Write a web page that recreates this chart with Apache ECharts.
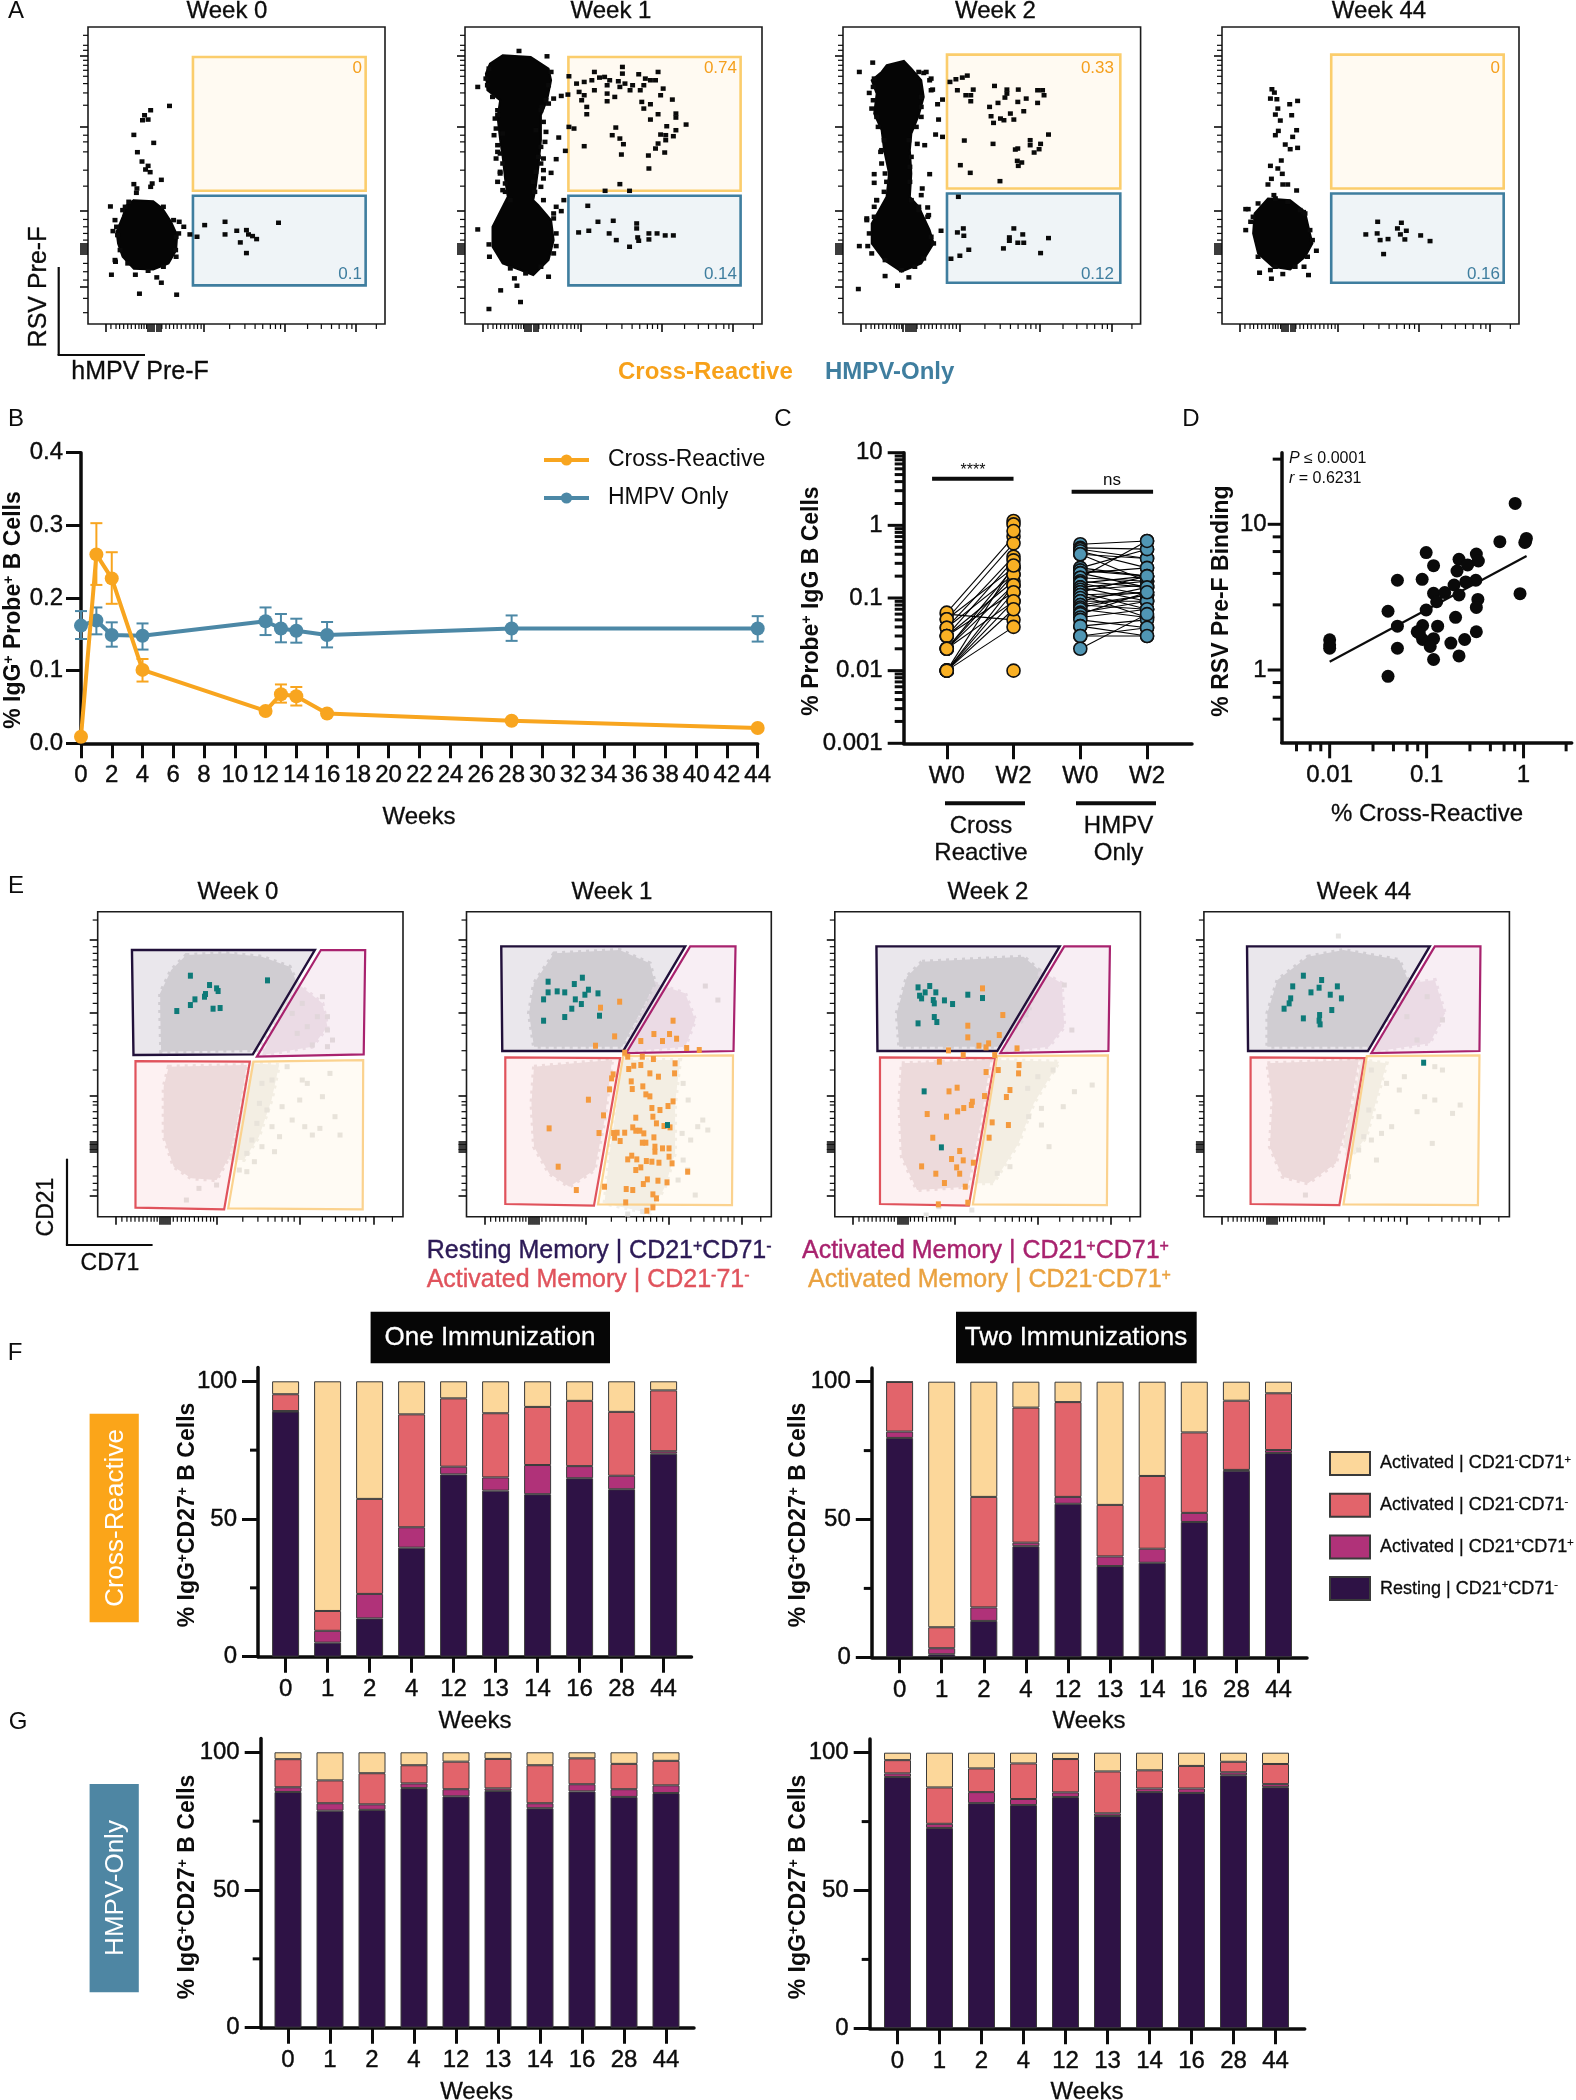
<!DOCTYPE html>
<html><head><meta charset="utf-8"><title>Figure</title>
<style>html,body{margin:0;padding:0;background:#fff}#c{width:1576px;height:2100px}</style>
<script src="https://cdn.jsdelivr.net/npm/echarts@6/dist/echarts.min.js"></script></head>
<body><div id="c"></div>
<script>
// ---------- Panel A: flow plots, values in display channels (x, y)
const aBlobW0=[[90,372],[128,369],[146,347],[163,307],[175,267],[173,222],[158,182],[128,164],[90,166],[68,202],[59,242],[56,277],[68,322],[76,357]];
const aDotsW0=[[160,655],[123,642],[111,627],[107,612],[118,614],[90,568],[129,544],[97,516],[106,488],[118,475],[113,464],[122,456],[144,433],[90,420],[96,407],[95,394],[123,412],[126,422],[44,353],[80,367],[53,312],[179,307],[188,292],[200,269],[214,262],[229,297],[269,307],[269,269],[292,280],[311,282],[315,269],[323,264],[331,255],[299,245],[311,213],[374,304],[54,187],[53,192],[46,148],[93,148],[135,140],[144,124],[101,91],[174,88],[49,279],[173,262],[172,222],
[68,342],[73,352],[56,292],[178,272],[168,312],[148,352],[173,202],[148,172],[118,160],[78,182],[63,222],[58,267]];
const aBlobW1=[[74,807],[129,802],[164,767],[169,732],[161,672],[149,627],[149,552],[144,472],[139,412],[134,372],[144,357],[169,312],[174,252],[164,192],[134,147],[109,162],[74,182],[54,232],[54,292],[74,352],[84,382],[79,432],[74,502],[69,552],[64,622],[69,672],[44,702],[41,752],[49,782]];
const aDotsW1=[[25,712],[106,820],[161,804],[204,744],[174,677],[189,685],[202,689],[151,652],[164,662],[64,627],[57,567],[159,577],[157,547],[184,560],[64,517],[197,520],[154,497],[179,495],[61,497],[149,482],[154,462],[169,454],[69,452],[64,427],[154,437],[74,402],[149,412],[194,372],[179,352],[189,339],[174,317],[25,284],[179,234],[47,239],[48,202],[164,142],[97,137],[102,115],[70,101],[109,66],[47,45],
[47,767],[41,737],[44,717],[54,682],[64,642],[59,617],[61,587],[74,572],[64,537],[69,512],[74,482],[69,457],[79,422],[79,397],[89,372],[169,757],[164,717],[159,672],[149,642],[154,607],[139,582],[149,532],[144,502],[139,457],[134,427],[137,397],[154,372],[174,332],[179,272],[174,212],[149,172],[119,152],[89,167],
[254,757],[309,772],[309,752],[234,727],[219,722],[249,732],[264,740],[274,742],[284,732],[301,729],[314,722],[329,717],[341,750],[354,737],[364,732],[379,757],[374,732],[351,717],[324,702],[304,712],[344,702],[389,707],[384,687],[254,702],[279,717],[224,697],[234,687],[229,672],[239,652],[239,630],[279,692],[294,682],[279,669],[347,667],[364,660],[351,647],[407,674],[379,630],[414,632],[414,620],[364,614],[434,599],[396,594],[414,582],[409,564],[394,567],[384,569],[394,552],[379,542],[374,527],[392,515],[360,506],[361,467],[296,590],[289,567],[304,557],[311,540],[307,509],[234,534],[204,592],[214,587],[304,420],[275,400],[323,400],
[241,355],[261,307],[291,310],[223,275],[243,280],[283,272],[297,252],[323,232],[337,302],[337,287],[339,260],[341,250],[361,272],[361,254],[377,272],[393,266],[409,266]];
const aBlobW2=[[88,777],[123,790],[138,767],[158,732],[163,682],[153,627],[138,572],[135,522],[138,452],[135,382],[153,352],[175,282],[183,242],[158,182],[118,157],[83,192],[58,242],[58,302],[88,382],[93,452],[83,522],[78,582],[63,632],[68,692],[58,732],[78,757]];
const aDotsW2=[[33,757],[60,785],[163,754],[178,737],[181,704],[201,674],[191,660],[193,614],[187,569],[201,562],[150,541],[165,537],[175,450],[76,517],[63,450],[63,424],[160,407],[158,387],[68,372],[153,352],[171,350],[173,327],[48,317],[198,280],[33,234],[50,234],[85,144],[133,140],[110,115],[31,105],
[63,737],[61,712],[53,694],[61,672],[58,647],[68,622],[71,592],[83,552],[78,522],[78,482],[85,452],[88,427],[83,397],[68,372],[63,352],[153,757],[168,757],[175,732],[178,702],[158,682],[158,652],[158,622],[148,592],[133,552],[138,502],[135,472],[135,427],[138,372],[153,342],[171,322],[178,262],[183,242],[163,197],[145,172],[118,162],[85,192],[58,212],[53,272],[48,312],[63,322],
[216,727],[228,735],[241,740],[251,746],[231,702],[263,704],[248,687],[258,687],[258,669],[306,715],[331,704],[331,692],[354,704],[327,680],[370,677],[393,702],[403,702],[406,687],[393,664],[353,667],[313,664],[296,652],[299,624],[365,639],[338,632],[318,617],[325,612],[345,614],[304,604],[245,551],[303,541],[378,552],[378,537],[399,541],[415,569],[353,527],[348,524],[396,525],[386,515],[352,490],[361,485],[354,475],[237,477],[257,454],[317,429],[233,382],
[243,287],[231,275],[244,265],[345,287],[363,269],[336,260],[336,250],[353,244],[365,244],[415,258],[324,227],[399,213],[254,223],[236,205],[218,196]];
const aBlobW44=[[93,377],[138,372],[168,337],[178,272],[183,242],[168,202],[138,164],[103,172],[73,212],[63,272],[66,332]];
const aDotsW44=[[101,705],[106,695],[98,677],[111,675],[137,660],[153,670],[113,647],[108,629],[141,627],[118,611],[114,580],[108,567],[151,582],[143,562],[128,539],[138,525],[153,529],[120,491],[98,475],[113,467],[122,451],[100,436],[93,419],[123,419],[133,419],[151,401],[105,387],[48,345],[53,345],[165,336],[48,282],[58,307],[191,220],[76,154],[98,162],[123,150],[100,136],[175,147],[166,172],
[73,362],[63,322],[168,332],[178,282],[183,252],[173,202],[148,172],[108,172],[73,202],[108,377],[133,367],[158,342],
[315,307],[363,304],[355,287],[373,280],[291,269],[314,272],[361,269],[402,266],[336,255],[320,252],[370,254],[421,249],[327,210]];
// gates: [x0, x1, yTop, yBottom]
const aCrossGates=[[206,545,802,400],[203,541,802,400],[210,560,809,407],[221,570,809,407]];
const aHmpvGates=[[206,545,385,116],[203,541,385,116],[210,560,392,124],[221,570,392,124]];
const aCrossPct=['0','0.74','0.33','0'];
const aHmpvPct=['0.1','0.14','0.12','0.16'];
const weekTitles=['Week 0','Week 1','Week 2','Week 44'];
const aXMajor=[35,228,386,526,118,122,126,130,134,138,142];
const aXMinor=[45,55,62,70,78,85,93,100,105,110,115,145,153,160,168,175,183,192,200,208,215,222,278,308,328,343,358,368,378,431,458,478,493,508,518,566];
const aYMajor=[806,592,340,112,212,218,224,230,236,242];
const aYMinor=[34,77,132,157,182,252,272,292,314,414,462,517,547,567,657,694,722,744,762,777,792,822,837,867];

// ---------- Panel B
const bWeeks=[0,1,2,4,12,13,14,16,28,44];
const bCross=[0.009,0.26,0.227,0.101,0.0445,0.0675,0.0647,0.041,0.031,0.021];
const bCrossHi=[null,0.303,0.263,0.116,null,0.081,0.0775,null,null,null];
const bCrossLo=[null,0.218,0.192,0.085,null,0.056,0.052,null,null,null];
const bHmpv=[0.162,0.169,0.149,0.148,0.168,0.158,0.155,0.149,0.158,0.158];
const bHmpvHi=[0.182,0.187,0.1665,0.165,0.187,0.178,0.1715,0.167,0.176,0.175];
const bHmpvLo=[0.1436,0.15,0.133,0.129,0.149,0.139,0.1385,0.132,0.141,0.14];

// ---------- Panel C: [W0, W2] pairs
const cLabels=['W0','W2','W0','W2'];
const cCrossPairs=[[0.06,0.05],[0.063,0.7],[0.051,0.565],[0.051,0.26],[0.039,0.37],[0.039,0.21],[0.03,0.33],[0.03,0.17],[0.03,0.12],[0.02,0.26],[0.02,0.21],[0.02,0.15],[0.02,0.09],[0.01,0.28],[0.01,0.15],[0.01,0.12],[0.01,0.09],[0.01,0.07],[0.01,0.04]];
const cCrossW2Only=[1.15,1.03,0.835,0.01];
const cHmpvPairs=[[0.55,0.61],[0.49,0.47],[0.47,0.35],[0.44,0.26],[0.40,0.35],[0.40,0.17],[0.26,0.47],[0.26,0.2],[0.24,0.2],[0.22,0.26],[0.22,0.14],[0.19,0.61],[0.19,0.17],[0.17,0.14],[0.16,0.2],[0.16,0.11],[0.14,0.17],[0.14,0.09],[0.13,0.15],[0.12,0.07],[0.12,0.2],[0.11,0.12],[0.11,0.054],[0.1,0.12],[0.09,0.14],[0.09,0.09],[0.08,0.11],[0.08,0.07],[0.074,0.11],[0.07,0.054],[0.063,0.09],[0.06,0.12],[0.054,0.07],[0.05,0.039],[0.041,0.05],[0.041,0.03],[0.03,0.039],[0.03,0.03],[0.02,0.06]];
const cSigBars=[[-0.22,1,4.39],[1.87,3.09,2.9]];
const logDecades=[0.001,0.01,0.1,1,10];
const logMinorFactors=[2,3,4,5,6,7,8,9];

// ---------- Panel D: [% cross-reactive, % RSV Pre-F binding]
const dPoints=[[0.82,13.9],[0.57,7.6],[1.05,7.6],[1.07,8.0],[1.03,7.5],[0.92,3.34],[0.099,6.4],[0.118,5.2],[0.216,5.75],[0.326,6.25],[0.265,5.26],[0.342,5.6],[0.206,4.78],[0.05,4.13],[0.09,4.19],[0.322,4.13],[0.253,4.02],[0.192,3.83],[0.118,3.36],[0.154,3.4],[0.216,3.27],[0.127,2.94],[0.338,3.05],[0.326,2.69],[0.099,2.58],[0.04,2.53],[0.199,2.3],[0.05,2.0],[0.091,2.02],[0.13,2.0],[0.08,1.83],[0.326,1.83],[0.091,1.62],[0.084,1.79],[0.118,1.64],[0.247,1.62],[0.178,1.53],[0.109,1.45],[0.05,1.41],[0.01,1.61],[0.01,1.49],[0.01,1.41],[0.216,1.25],[0.118,1.18],[0.04,0.905]];
const dFit=[[0.01,1.14],[1.075,6.06]];
const dXTicksMinor=[0.00455,0.0063,0.0081,0.028,0.0455,0.063,0.081,0.28,0.455,0.63,0.81,2.75];
const dXTicksMajor=[0.01,0.1,1];
const dYTicksMinor=[0.46,0.65,0.82,2.8,4.6,6.5,8.2,28];
const dYTicksMajor=[1,10];

// ---------- Panel E: flow plots, channels (x, y)
const eXMajor=[36,237,402,547,124,128,132,136,140,144];
const eXMinor=[48,58,66,74,82,90,98,106,112,118,150,158,166,174,182,192,200,208,216,224,230,288,318,338,352,366,378,390,446,472,492,506,520,532,585];
const eYMajor=[832,612,362,62,195,200,205,210,215,220,225];
const eYMinor=[150,122,100,80,255,275,295,315,335,345,440,498,550,575,640,670,700,725,750,770,790,810,890];
const eRest=[[[68,800],[431,800],[308,487],[71,485]],[[69,811],[434,811],[311,497],[71,497]],[[82,811],[443,811],[320,497],[84,497]],[[85,811],[445,811],[323,497],[87,497]]];
const eActPos=[[[443,800],[531,800],[528,487],[316,480]],[[444,811],[534,811],[530,497],[317,491]],[[452,811],[542,811],[539,497],[326,491]],[[455,811],[545,811],[543,497],[330,491]]];
const eNeg=[[[75,467],[302,465],[251,22],[75,27]],[[77,478],[305,476],[253,33],[77,38]],[[89,478],[316,476],[264,33],[89,38]],[[92,478],[317,476],[267,35],[92,38]]];
const eAct71=[[[309,465],[527,470],[526,22],[259,25]],[[311,482],[529,484],[527,35],[261,37]],[[320,482],[538,484],[536,35],[272,37]],[[321,482],[543,484],[540,35],[275,37]]];
const eCloudUp=[[[176,785],[256,790],[326,780],[381,750],[396,700],[366,620],[316,500],[126,495],[124,620],[124,670],[146,740]],[[174,790],[304,800],[364,760],[374,700],[344,610],[309,510],[134,510],[124,610],[134,700]],[[172,765],[372,780],[402,740],[382,610],[322,510],[127,510],[122,610],[142,720]],[[205,780],[275,800],[385,770],[405,700],[365,600],[325,510],[125,510],[125,610],[145,710]]];
const eCloudMag=[[[396,700],[446,640],[456,570],[426,510],[326,485],[366,620]],[[374,700],[434,670],[454,590],[434,510],[314,495]],[[402,740],[447,700],[452,570],[422,510],[332,495]],[[405,700],[455,710],[475,610],[445,520],[335,495]]];
const eCloudLow=[[[141,450],[296,455],[276,280],[261,180],[236,110],[186,115],[151,150],[131,240],[131,390]],[[134,450],[289,470],[274,290],[254,140],[204,90],[164,130],[134,210],[129,340]],[[132,460],[307,470],[287,280],[262,90],[162,80],[132,180],[127,340]],[[125,460],[305,470],[285,300],[260,160],[205,100],[155,120],[130,210],[135,340]]];
const eCloudRight=[[[306,460],[360,455],[345,350],[320,240],[290,170],[262,170],[285,300]],[[309,470],[424,470],[414,340],[414,190],[394,90],[364,10],[274,40],[284,190],[299,340]],[[322,470],[442,465],[392,340],[362,220],[312,100],[277,100],[297,280]],[[310,470],[360,460],[340,350],[320,240],[285,170],[275,230],[295,340]]];
const eGray=[
[[376,450],[406,410],[416,400],[461,430],[446,360],[366,330],[401,350],[326,400],[346,410],[321,340],[336,320],[316,280],[346,270],[361,240],[386,290],[411,270],[426,245],[471,300],[481,245],[441,265],[306,230],[326,210],[296,190],[351,195],[311,165],[281,140],[296,135],[176,50],[201,85],[236,95],[446,660],[406,640],[436,600],[456,600],[386,610],[416,570],[456,560],[396,550],[466,530],[426,515],[456,510]],
[[474,692],[499,650],[469,290],[479,260],[459,270],[454,65],[439,140],[320,8],[350,15],[430,400],[440,350],[428,250],[445,230],[420,110],[430,170]],
[[507,395],[472,375],[422,210],[382,300],[407,325],[407,275],[452,695],[467,560],[430,440],[400,420],[450,330],[380,385],[345,150],[320,130],[180,5],[205,30],[270,20]],
[[330,440],[455,450],[470,440],[395,420],[360,400],[385,380],[435,360],[455,350],[505,335],[490,310],[420,315],[345,300],[325,320],[370,270],[350,250],[315,240],[330,230],[450,220],[305,200],[340,170],[285,120],[200,65],[265,842],[440,660],[470,590],[420,530],[400,600]]];
const eTeal=[
[[184,723],[222,695],[236,685],[239,677],[214,668],[212,660],[193,652],[184,635],[157,617],[229,624],[243,626],[337,709]],
[[230,717],[214,698],[162,705],[162,673],[180,676],[195,673],[242,681],[235,666],[261,670],[153,652],[216,652],[228,638],[209,624],[195,599],[153,588],[264,603],[399,275]],
[[164,688],[187,692],[199,673],[178,673],[167,663],[171,655],[194,650],[196,640],[216,649],[232,638],[262,666],[291,656],[196,599],[201,584],[164,580],[176,376],[210,208]],
[[196,723],[232,710],[175,691],[227,687],[263,691],[211,673],[249,666],[171,655],[271,655],[168,640],[158,624],[252,620],[196,595],[228,605],[227,588],[229,577],[433,462]]];
const eOrange=[[],
[[304,645],[266,627],[294,541],[256,513],[346,527],[372,548],[389,527],[403,548],[417,534],[410,588],[437,506],[462,500],[314,492],[322,443],[332,453],[346,455],[320,480],[349,480],[371,473],[414,460],[413,430],[364,430],[381,420],[291,427],[288,415],[327,406],[284,382],[329,383],[350,391],[242,351],[356,367],[364,361],[410,346],[368,326],[384,320],[400,332],[272,304],[336,297],[370,300],[377,280],[392,272],[330,268],[404,268],[164,265],[263,251],[292,251],[299,252],[314,252],[336,258],[344,258],[352,250],[294,237],[305,227],[372,238],[349,222],[356,222],[374,210],[374,195],[389,205],[402,205],[402,180],[328,183],[320,172],[338,172],[357,167],[368,165],[382,162],[408,160],[182,150],[346,148],[336,140],[439,135],[359,112],[351,98],[380,108],[398,103],[274,90],[218,80],[317,83],[330,80],[370,67],[377,55],[316,43],[358,18],[370,28]],
[[291,685],[331,605],[262,573],[262,538],[324,545],[303,520],[284,513],[298,508],[359,505],[224,499],[253,485],[315,485],[206,465],[363,455],[362,430],[298,434],[322,440],[345,380],[241,387],[225,376],[338,359],[295,362],[271,345],[269,335],[254,326],[242,316],[220,300],[182,308],[310,283],[342,275],[193,237],[304,237],[246,197],[230,173],[253,169],[273,162],[240,148],[171,151],[246,129],[199,129],[216,101],[257,90],[204,37],[262,42]],
[]];

// ---------- Panels F, G: stacked percentages
const barWeeks=['0','1','2','4','12','13','14','16','28','44'];
const stackNames=['Resting | CD21+CD71-','Activated | CD21+CD71+','Activated | CD21-CD71-','Activated | CD21-CD71+'];
const fOneResting=[89.0,5.1,13.9,39.6,66.2,60.3,59.0,64.8,60.8,73.7];
const fOneMag=[0.2,4.3,8.9,7.4,2.8,4.8,10.6,4.4,4.9,0.9];
const fOneRed=[6.1,7.2,34.5,41.0,24.8,23.3,21.1,23.7,23.2,22.1];
const fOneYellow=[4.7,83.4,42.7,12.0,6.2,11.6,9.3,7.1,11.1,3.3];
const fTwoResting=[79.6,1.1,13.2,40.3,55.7,33.1,34.3,49.1,67.7,74.1];
const fTwoMag=[2.3,2.2,4.9,1.3,2.5,3.5,5.1,3.3,0.3,1.1];
const fTwoRed=[18.0,7.6,40.1,49.0,34.4,18.7,26.4,29.2,25.1,20.6];
const fTwoYellow=[0.1,89.1,41.8,9.4,7.4,44.7,34.2,18.4,6.9,4.2];
const gOneResting=[85.6,78.8,79.1,87,84,86,79.7,85.8,83.8,85.2];
const gOneMag=[1.7,2.7,2,1.7,2.6,0.9,1.8,2.6,2.8,2.8];
const gOneRed=[10.2,8.3,11.3,6.6,10,10.7,13.8,9.4,9.2,8.9];
const gOneYellow=[2.5,10.2,7.6,4.7,3.4,2.4,4.7,2.2,4.2,3.1];
const gTwoResting=[91.2,72.7,81.7,81,83.9,77,85.7,85.4,91.8,87.5];
const gTwoMag=[1.3,1.5,4,2.2,1.7,1,1.3,1.6,1.1,1.1];
const gTwoRed=[4.8,13.2,8.6,12.9,12.1,15.2,6.6,8.2,3.8,7.3];
const gTwoYellow=[2.7,12.6,5.7,3.9,2.3,6.8,6.4,4.8,3.3,4.1];

// ---------- Styling and builders
const FONT='"Liberation Sans", Arial, sans-serif';
const INK='#0c0c0c';
const C_BLUE='#4c88a6';
const STACK_COLORS=['#2e1245','#b03279','#e2646b','#fcd79a'];
const grids=[],xAxes=[],yAxes=[],series=[],graphics=[];

function addGrid(rect,xa,ya){
  const idx=grids.length;
  grids.push(Object.assign({left:rect[0],top:rect[1],width:rect[2],height:rect[3],containLabel:false},rect[4]||{}));
  xAxes.push(Object.assign({gridIndex:idx},xa));
  yAxes.push(Object.assign({gridIndex:idx},ya));
  return idx;
}
function tickSeries(g,dir,values,at,len,width){
  series.push({type:'custom',xAxisIndex:g,yAxisIndex:g,silent:true,z:6,clip:false,
    data:values.map(v=>[v]),
    renderItem:(p,api)=>{
      const v=api.value(0);
      const c=api.coord(dir==='x'?[v,at]:[at,v]);
      return {type:'line',shape:dir==='x'?{x1:c[0],y1:c[1],x2:c[0],y2:c[1]+len}:{x1:c[0],y1:c[1],x2:c[0]-len,y2:c[1]},
        style:{stroke:INK,lineWidth:width,fill:null}};
    }});
}
function polySeries(g,pts,style,z){
  series.push({type:'custom',xAxisIndex:g,yAxisIndex:g,silent:true,z:z,clip:false,
    data:pts,
    renderItem:(p,api)=>{
      if(p.dataIndex!==0) return null;
      return {type:'polygon',shape:{points:pts.map(q=>api.coord(q))},style:style};
    }});
}
function dotSeries(g,pts,color,size,z){
  series.push({type:'scatter',xAxisIndex:g,yAxisIndex:g,silent:true,z:z,clip:false,
    data:pts,symbol:'rect',symbolSize:size,itemStyle:{color:color,opacity:1}});
}
function flowAxes(rect,xMax,yMax,baseX,xMajor,yMajor){
  const k=xMax/baseX;
  return addGrid([rect[0],rect[1],rect[2],rect[3],{show:true,borderColor:'#1c1c1c',borderWidth:1.6,backgroundColor:'#fff'}],
    {type:'value',min:0,max:xMax,splitLine:{show:false},axisLine:{show:false},axisLabel:{show:false},
     axisTick:{show:true,length:8,customValues:xMajor.map(v=>v*k),lineStyle:{color:INK,width:1.6}}},
    {type:'value',min:0,max:yMax,splitLine:{show:false},axisLine:{show:false},axisLabel:{show:false},
     axisTick:{show:true,length:8,customValues:yMajor,lineStyle:{color:INK,width:1.6}}});
}
function T(x,y,text,o){
  o=o||{};
  const size=o.size||23,w=o.weight||'normal',col=o.color||INK;
  const style={text:text,fill:col,fontFamily:FONT,fontSize:size,fontWeight:w,align:o.align||'center',verticalAlign:'middle'};
  if(o.stroke){style.stroke=col;style.lineWidth=o.stroke;}
  if(text.indexOf('{s|')>=0){
    style.rich={s:{fontFamily:FONT,fontSize:Math.round(size*0.62),fontWeight:w,fill:col,verticalAlign:'top'}};
  }
  if(text.indexOf('{i|')>=0){
    style.rich=Object.assign(style.rich||{},{i:{fontFamily:FONT,fontSize:size,fontStyle:'italic',fill:col}});
  }
  graphics.push({type:'text',x:o.rot?x+1.5:x,y:o.rot?y:y+1.5,rotation:o.rot?Math.PI/2:0,silent:true,z:50,style:style});
}
function L(x1,y1,x2,y2,w,col){graphics.push({type:'line',silent:true,z:49,shape:{x1,y1,x2,y2},style:{stroke:col||INK,lineWidth:w}});}
function R(x,y,w,h,fill){graphics.push({type:'rect',silent:true,z:48,shape:{x,y,width:w,height:h},style:{fill}});}

// ---------- Panel A
const aRects=[[88,27,297,297],[465,27,297,297],[843,27,297.6,297],[1222,27,297,297]];
const aXMaxes=[583,583,601,601];
const aBlobs=[aBlobW0,aBlobW1,aBlobW2,aBlobW44];
const aDots=[aDotsW0,aDotsW1,aDotsW2,aDotsW44];
const aTitleX=[227,611,995.5,1379],aPctX=[362,737,1114,1500];
aRects.forEach((r,i)=>{
  const g=flowAxes(r,aXMaxes[i],892,583,aXMajor,aYMajor);
  tickSeries(g,'x',aXMinor.map(v=>v*aXMaxes[i]/583),0,5,1.2);
  tickSeries(g,'y',aYMinor,0,5,1.2);
  const c=aCrossGates[i],h=aHmpvGates[i];
  polySeries(g,[[c[0],c[2]],[c[1],c[2]],[c[1],c[3]],[c[0],c[3]]],{fill:'#fffaf2',stroke:'#fbcd6c',lineWidth:2.6},3);
  polySeries(g,[[h[0],h[2]],[h[1],h[2]],[h[1],h[3]],[h[0],h[3]]],{fill:'#eff4f7',stroke:'#3f7e9f',lineWidth:2.6},3);
  polySeries(g,aBlobs[i],{fill:'#050505',stroke:'#050505',lineWidth:2},4);
  dotSeries(g,aDots[i],'#0a0a0a',[5,4.5],5);
  T(aTitleX[i],10,weekTitles[i],{size:24,stroke:0.3});
  T(aPctX[i],66.5,aCrossPct[i],{size:17,align:'right',color:'#f59f1c'});
  T(aPctX[i],272.5,aHmpvPct[i],{size:17,align:'right',color:'#3f7e9f'});
});
L(58.7,267,58.7,355,2.2);L(57.6,355,145,355,2.2);
T(38,287,'RSV Pre-F',{rot:true,size:25,stroke:0.3});
T(140,370.5,'hMPV Pre-F',{size:25,stroke:0.3});
T(618,370.5,'Cross-Reactive',{size:24,weight:'bold',align:'left',color:'#f7a11a'});
T(825,370.5,'HMPV-Only',{size:24,weight:'bold',align:'left',color:'#3f7e9f'});

// ---------- Panel B
const AX={show:true,onZero:false,lineStyle:{color:INK,width:3.5}};
const LBL={fontFamily:FONT,fontSize:24,color:INK,textBorderColor:INK,textBorderWidth:0.4};
{
  const g=addGrid([81,452.7,676.7,290.6],
    {type:'value',min:0,max:44,interval:2,splitLine:{show:false},axisLine:AX,
     axisTick:{length:15,lineStyle:{color:INK,width:3}},axisLabel:Object.assign({margin:20},LBL)},
    {type:'value',min:0,max:0.4,interval:0.1,splitLine:{show:false},axisLine:AX,
     axisTick:{length:15,lineStyle:{color:INK,width:3}},axisLabel:Object.assign({margin:18,formatter:v=>v.toFixed(1)},LBL)});
  const errs=(hi,lo,col)=>{
    const rows=bWeeks.map((w,i)=>[w,hi[i],lo[i]]).filter(r=>r[1]!==null);
    series.push({type:'custom',xAxisIndex:g,yAxisIndex:g,silent:true,z:3,clip:false,data:rows,
      renderItem:(p,api)=>{
        const a=api.coord([api.value(0),api.value(1)]),b=api.coord([api.value(0),api.value(2)]);
        const st={stroke:col,lineWidth:2,fill:null};
        return {type:'group',children:[
          {type:'line',shape:{x1:a[0],y1:a[1],x2:b[0],y2:b[1]},style:st},
          {type:'line',shape:{x1:a[0]-6,y1:a[1],x2:a[0]+6,y2:a[1]},style:st},
          {type:'line',shape:{x1:b[0]-6,y1:b[1],x2:b[0]+6,y2:b[1]},style:st}]};
      }});
  };
  errs(bHmpvHi,bHmpvLo,C_BLUE);errs(bCrossHi,bCrossLo,'#f8a51f');
  const ln=(name,vals,col,z)=>series.push({type:'line',name,xAxisIndex:g,yAxisIndex:g,z,clip:false,silent:true,
    data:bWeeks.map((w,i)=>[w,vals[i]]),symbol:'circle',symbolSize:14,showAllSymbol:true,
    lineStyle:{color:col,width:4},itemStyle:{color:col}});
  ln('HMPV Only',bHmpv,C_BLUE,4);ln('Cross-Reactive',bCross,'#f8a51f',5);
  T(12,610,'% IgG{s|+} Probe{s|+} B Cells',{rot:true,size:23,weight:'bold'});
  T(419,816,'Weeks',{size:24,stroke:0.3});
}
// ---------- Panel C
{
  const g=addGrid([903.7,452.7,288.3,290.6],
    {type:'value',min:-0.645,max:3.673,splitLine:{show:false},axisLine:AX,
     axisTick:{length:16,customValues:[0,1,2,3],lineStyle:{color:INK,width:3}},
     axisLabel:Object.assign({margin:21,customValues:[0,1,2,3],formatter:v=>cLabels[Math.round(v)]},LBL)},
    {type:'log',logBase:10,min:0.001,max:10,splitLine:{show:false},axisLine:AX,axisTick:{show:false},
     axisLabel:Object.assign({margin:21,formatter:v=>String(+v.toPrecision(1))},LBL)});
  tickSeries(g,'y',logDecades,-0.645,16,3);
  const minors=[];logDecades.slice(0,4).forEach(d=>logMinorFactors.forEach(f=>minors.push(+(d*f).toPrecision(2))));
  tickSeries(g,'y',minors,-0.645,9,3);
  const pairLines=(pairs,a)=>series.push({type:'custom',xAxisIndex:g,yAxisIndex:g,silent:true,z:3,clip:false,data:pairs,
    renderItem:(p,api)=>{
      const s=api.coord([a,api.value(0)]),e=api.coord([a+1,api.value(1)]);
      return {type:'line',shape:{x1:s[0],y1:s[1],x2:e[0],y2:e[1]},style:{stroke:'#000',lineWidth:1.1,fill:null}};
    }});
  pairLines(cCrossPairs,0);pairLines(cHmpvPairs,2);
  const pts=(x,vals,col)=>series.push({type:'scatter',xAxisIndex:g,yAxisIndex:g,silent:true,z:4,clip:false,
    data:vals.map(v=>[x,v]),symbol:'circle',symbolSize:13,itemStyle:{color:col,opacity:1,borderColor:'#111',borderWidth:1.6}});
  pts(0,cCrossPairs.map(p=>p[0]),'#f9b024');
  pts(1,cCrossPairs.map(p=>p[1]).concat(cCrossW2Only),'#f9b024');
  pts(2,cHmpvPairs.map(p=>p[0]),'#5096b4');
  pts(3,cHmpvPairs.map(p=>p[1]),'#5096b4');
  series.push({type:'custom',xAxisIndex:g,yAxisIndex:g,silent:true,z:3,clip:false,data:cSigBars,
    renderItem:(p,api)=>{
      const a=api.coord([api.value(0),api.value(2)]),b=api.coord([api.value(1),api.value(2)]);
      return {type:'line',shape:{x1:a[0],y1:a[1],x2:b[0],y2:b[1]},style:{stroke:INK,lineWidth:4,fill:null}};
    }});
  T(973,469,'****',{size:16});
  T(1112,479,'ns',{size:17});
  L(945,803.3,1025,803.3,4);L(1076,803.3,1156,803.3,4);
  T(981,825,'Cross',{size:24,stroke:0.3});T(981,852,'Reactive',{size:24,stroke:0.3});
  T(1118.5,825,'HMPV',{size:24,stroke:0.3});T(1118.5,852,'Only',{size:24,stroke:0.3});
  T(810,601,'% Probe{s|+} IgG B Cells',{rot:true,size:23,weight:'bold'});
}
// ---------- Panel D
{
  const decadeOnly=v=>{const l=Math.log10(v);return Math.abs(l-Math.round(l))<1e-6?String(+v.toPrecision(1)):'';};
  const g=addGrid([1281.7,452.7,290,289.6],
    {type:'log',logBase:10,min:0.0032,max:3.14,splitLine:{show:false},axisLine:AX,axisTick:{show:false},
     axisLabel:Object.assign({margin:21,formatter:decadeOnly},LBL)},
    {type:'log',logBase:10,min:0.319,max:31,splitLine:{show:false},axisLine:AX,axisTick:{show:false},
     axisLabel:Object.assign({margin:15,formatter:decadeOnly},LBL)});
  tickSeries(g,'x',dXTicksMajor,0.319,16,3);
  tickSeries(g,'x',dXTicksMinor,0.319,9,3);
  tickSeries(g,'y',dYTicksMajor,0.0032,14,3);
  tickSeries(g,'y',dYTicksMinor,0.0032,9,3);
  series.push({type:'line',xAxisIndex:g,yAxisIndex:g,silent:true,z:3,data:dFit,showSymbol:false,lineStyle:{color:INK,width:2.2}});
  series.push({type:'scatter',xAxisIndex:g,yAxisIndex:g,silent:true,z:4,clip:false,data:dPoints,symbol:'circle',symbolSize:13,itemStyle:{color:'#0a0a0a',opacity:1}});
  T(1289,457,'{i|P} \u2264 0.0001',{size:16,align:'left'});
  T(1289,477,'{i|r} = 0.6231',{size:16,align:'left'});
  T(1427,812.7,'% Cross-Reactive',{size:24,stroke:0.3});
  T(1220,601,'% RSV Pre-F Binding',{rot:true,size:23,weight:'bold'});
}
// ---------- Panel E
const eRects=[[97.7,911.7,305.3,305],[466.5,911.7,304.8,305],[834.8,911.7,305.6,305],[1203.9,911.7,305.5,305]];
const eXMaxes=[606,605,602,602];
const eTitleX=[238,612,988,1364];
eRects.forEach((r,i)=>{
  const g=flowAxes(r,eXMaxes[i],915,606,eXMajor,eYMajor);
  tickSeries(g,'x',eXMinor.map(v=>v*eXMaxes[i]/606),0,5,1.2);
  tickSeries(g,'y',eYMinor,0,5,1.2);
  const soft=(col)=>({fill:col,stroke:col,lineWidth:4,lineDash:[3,5]});
  polySeries(g,eCloudMag[i],soft('#f1ebef'),2);
  polySeries(g,eCloudRight[i],soft('#f2f1ed'),2);
  polySeries(g,eCloudUp[i],soft('#e3e2e3'),2);
  polySeries(g,eCloudLow[i],soft('#eee6e6'),2);
  dotSeries(g,eGray[i],'#e6e5e3',5,2);
  polySeries(g,eRest[i],{fill:'rgba(46,18,69,0.10)',stroke:'#21103a',lineWidth:2.4,lineJoin:'miter'},3);
  polySeries(g,eActPos[i],{fill:'rgba(168,34,110,0.08)',stroke:'#a8226e',lineWidth:2.2,lineJoin:'miter'},3);
  polySeries(g,eNeg[i],{fill:'rgba(224,80,90,0.08)',stroke:'#e0535c',lineWidth:2.2,lineJoin:'miter'},3);
  polySeries(g,eAct71[i],{fill:'rgba(250,200,110,0.08)',stroke:'#fbd28e',lineWidth:2.2,lineJoin:'miter'},3);
  dotSeries(g,eOrange[i],'#f49a3e',[5,6],5);
  dotSeries(g,eTeal[i],'#0d7a78',[5,6],5);
  T(eTitleX[i],890.5,weekTitles[i],{size:24,stroke:0.3});
});
L(67,1158.7,67,1245,2.2);L(65.9,1245,152.6,1245,2.2);
T(45,1207,'CD21',{rot:true,size:23,stroke:0.3});
T(110,1261.7,'CD71',{size:23,stroke:0.3});
T(426.7,1250,'Resting Memory | CD21{s|+}CD71{s|-}',{size:25,align:'left',color:'#2c1a56',stroke:0.4});
T(426.7,1279,'Activated Memory | CD21{s|-}71{s|-}',{size:25,align:'left',color:'#e0535c',stroke:0.4});
T(802,1250,'Activated Memory | CD21{s|+}CD71{s|+}',{size:25,align:'left',color:'#a8226e',stroke:0.4});
T(808,1279,'Activated Memory | CD21{s|-}CD71{s|+}',{size:25,align:'left',color:'#eaa240',stroke:0.4});

// ---------- Panels F, G
function stackPanel(cfg,rows){
  const perUnit=cfg.perUnit,top=cfg.y0-105*perUnit,h=105*perUnit;
  const xMin=(cfg.left-cfg.c0)/cfg.sp,xMax=(cfg.right-cfg.c0)/cfg.sp;
  const hold=addGrid([cfg.c0-cfg.sp/2,top,cfg.sp*10,h],
    {type:'category',data:barWeeks,show:false},
    {type:'value',min:0,max:105,show:false,splitLine:{show:false}});
  rows.forEach((vals,k)=>series.push({type:'bar',name:stackNames[k],stack:'s'+hold,xAxisIndex:hold,yAxisIndex:hold,silent:true,z:3,
    barWidth:27,data:vals,itemStyle:{color:STACK_COLORS[k],borderColor:'#3a3a3a',borderWidth:1}}));
  const g=addGrid([cfg.left,top,cfg.right-cfg.left,h],
    {type:'value',min:xMin,max:xMax,splitLine:{show:false},axisLine:AX,
     axisTick:{length:16,customValues:barWeeks.map((w,i)=>i),lineStyle:{color:INK,width:3}},
     axisLabel:Object.assign({margin:21,customValues:barWeeks.map((w,i)=>i),formatter:v=>barWeeks[Math.round(v)]},LBL)},
    {type:'value',min:0,max:105,splitLine:{show:false},axisLine:AX,
     axisTick:{length:16,customValues:[0,50,100],lineStyle:{color:INK,width:3}},
     axisLabel:Object.assign({margin:21,customValues:[0,50,100]},LBL)});
  tickSeries(g,'y',[25,75],xMin,8,3);
  T(cfg.titleX,cfg.titleY,'% IgG{s|+}CD27{s|+} B Cells',{rot:true,size:23,weight:'bold'});
  T(cfg.weeksX,cfg.weeksY,'Weeks',{size:24,stroke:0.3});
}
stackPanel({left:258,right:691.5,y0:1656.7,perUnit:2.754,c0:285.6,sp:42,titleX:186.6,titleY:1515,weeksX:475,weeksY:1720},[fOneResting,fOneMag,fOneRed,fOneYellow]);
stackPanel({left:871.8,right:1307,y0:1657.3,perUnit:2.756,c0:899.6,sp:42.1,titleX:796.7,titleY:1515,weeksX:1089,weeksY:1720},[fTwoResting,fTwoMag,fTwoRed,fTwoYellow]);
stackPanel({left:260.7,right:694,y0:2027.7,perUnit:2.754,c0:288,sp:42,titleX:186.6,titleY:1887,weeksX:476.6,weeksY:2091},[gOneResting,gOneMag,gOneRed,gOneYellow]);
stackPanel({left:869.7,right:1304.7,y0:2028.3,perUnit:2.756,c0:897.5,sp:42,titleX:796.7,titleY:1887,weeksX:1087,weeksY:2091},[gTwoResting,gTwoMag,gTwoRed,gTwoYellow]);

R(370.6,1311.7,239.4,51.6,'#060606');R(956,1311.7,240.7,51.6,'#060606');
T(490,1336,'One Immunization',{size:26,color:'#fff',stroke:0.3});
T(1076,1336,'Two Immunizations',{size:26,color:'#fff',stroke:0.3});
R(89.6,1413.7,49.2,208.6,'#fba519');R(89.6,1784,49.2,208.3,'#4e86a3');
T(114,1518,'Cross-Reactive',{rot:true,size:26,color:'#fff'});
T(114,1888,'HMPV-Only',{rot:true,size:26,color:'#fff'});

// panel letters
[['A',16,10],['B',16,418],['C',783,418],['D',1191,418],['E',16,885],['F',15,1352],['G',18,1721]].forEach(a=>T(a[1],a[2],a[0],{size:24}));

const legendMarkup=n=>n.replace(/(CD21|CD71)([+-])/g,'$1{s|$2}');
echarts.init(document.getElementById('c'),null,{renderer:'canvas'}).setOption({
  animation:false,backgroundColor:'#fff',
  legend:[
    {data:['Cross-Reactive','HMPV Only'],left:537,top:443.5,orient:'vertical',itemWidth:45,itemHeight:14,itemGap:15,selectedMode:false,
     lineStyle:{width:4},
     textStyle:{fontFamily:FONT,fontSize:23,color:INK,padding:[0,0,0,14]}},
    {data:[stackNames[3],stackNames[2],stackNames[1],stackNames[0]],left:1324,top:1446,orient:'vertical',itemWidth:40,itemHeight:23,itemGap:16.7,selectedMode:false,
     icon:'rect',formatter:n=>legendMarkup(n),textStyle:{fontFamily:FONT,fontSize:18,color:INK,padding:[0,0,0,5],textBorderColor:INK,textBorderWidth:0.3,rich:{s:{fontFamily:FONT,fontSize:11,color:INK,verticalAlign:'top'}}}}
  ],
  grid:grids,xAxis:xAxes,yAxis:yAxes,series:series,graphic:{elements:graphics}
});
</script></body></html>
